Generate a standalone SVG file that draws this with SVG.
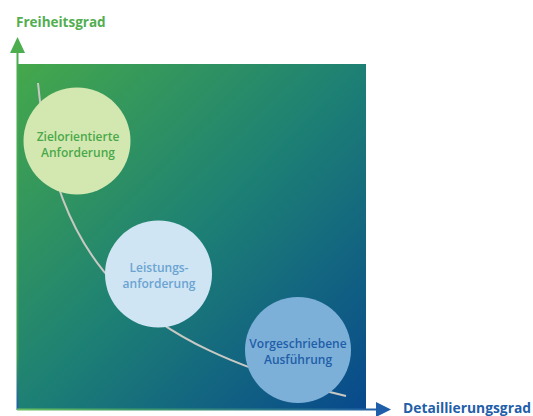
<svg xmlns="http://www.w3.org/2000/svg" width="533" height="416" viewBox="0 0 533 416">
  <defs>
    <linearGradient id="field" x1="0" y1="0" x2="1" y2="1">
      <stop offset="0" stop-color="#45a84b"/>
      <stop offset="0.5" stop-color="#1d8074"/>
      <stop offset="1" stop-color="#08498d"/>
    </linearGradient>
    <linearGradient id="axisY" gradientUnits="userSpaceOnUse" x1="0" y1="410" x2="0" y2="40">
      <stop offset="0" stop-color="#1f5ea8"/>
      <stop offset="0.15" stop-color="#3a9a55"/>
      <stop offset="1" stop-color="#4cae4f"/>
    </linearGradient>
    <linearGradient id="axisX" gradientUnits="userSpaceOnUse" x1="17" y1="0" x2="390" y2="0">
      <stop offset="0" stop-color="#6cc060"/>
      <stop offset="0.3" stop-color="#3f9c6a"/>
      <stop offset="1" stop-color="#1f5ea8"/>
    </linearGradient>
    <style>
      .lbl { font-family: "Open Sans", "Noto Sans", sans-serif; font-weight: 600; text-anchor: middle; font-size: 12px; }
      .axis-lbl { font-family: "Open Sans", "Noto Sans", sans-serif; font-weight: 700; font-size: 13.5px; }
    </style>
  </defs>

  <!-- background field -->
  <rect id="field-area" x="17" y="64" width="349" height="346" fill="url(#field)"/>

  <!-- axes and trade-off curve -->
  <g id="connectors">
    <line x1="17.5" y1="410" x2="17.5" y2="50" stroke="url(#axisY)" stroke-width="2"/>
    <polygon points="17.5,37 25,53 10,53" fill="#4cae4f"/>
    <line x1="17" y1="409.5" x2="378" y2="409.5" stroke="url(#axisX)" stroke-width="2"/>
    <polygon points="391,409.5 376,402 376,417" fill="#1f5ea8"/>
    <path d="M38,83 C55,260 130,345 346,396" fill="none" stroke="#c9c9c4" stroke-width="2"/>
  </g>

  <g id="node-ziel">
    <circle cx="77" cy="141" r="53.5" fill="#d3e8b0"/>
    <text class="lbl" x="78" y="141" fill="#4aa84b">Zielorientierte</text>
    <text class="lbl" x="78" y="157" fill="#4aa84b">Anforderung</text>
  </g>

  <g id="node-leistung">
    <circle cx="158.5" cy="274" r="53.5" fill="#cfe5f3"/>
    <text class="lbl" x="159" y="272" fill="#6ba3d2">Leistungs-</text>
    <text class="lbl" x="159" y="288" fill="#6ba3d2">anforderung</text>
  </g>

  <g id="node-vorgeschrieben">
    <circle cx="298" cy="350" r="53" fill="#7db0d9"/>
    <text class="lbl" x="298" y="348" fill="#1f5ea8">Vorgeschriebene</text>
    <text class="lbl" x="298" y="364" fill="#1f5ea8">Ausführung</text>
  </g>

  <text class="axis-lbl" x="16" y="27" fill="#52ae50">Freiheitsgrad</text>
  <text class="axis-lbl" x="531" y="413" fill="#1f5ea8" text-anchor="end" textLength="128" lengthAdjust="spacingAndGlyphs">Detaillierungsgrad</text>
</svg>
